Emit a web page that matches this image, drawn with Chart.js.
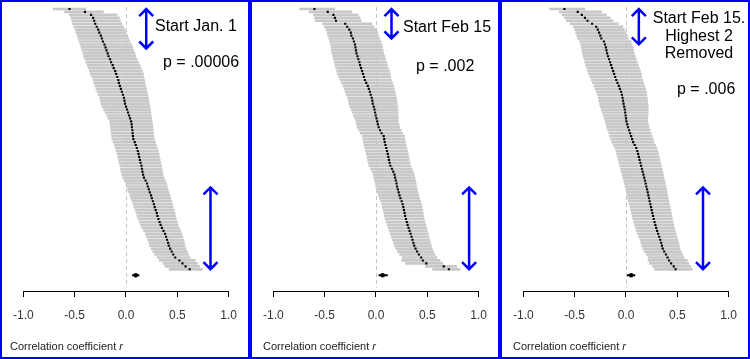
<!DOCTYPE html>
<html>
<head>
<meta charset="utf-8">
<script src="https://cdn.jsdelivr.net/npm/chart.js@4.4.0/dist/chart.umd.min.js"></script>
<style>
  body { margin: 0; background: #fff; font-family: "Liberation Sans", Arial, sans-serif; }
  #wrap { position: relative; width: 750px; height: 359px; overflow: hidden; }
  .panel { position: absolute; top: 0; width: 250px; height: 359px; box-sizing: border-box; border: 2px solid #0000ff; }
  .panel canvas { position: absolute; left: 0; top: 0; }
  .note { position: absolute; font-size: 16px; line-height: 18px; color: #000; white-space: nowrap; }
  .xtitle { position: absolute; top: 338px; font-size: 11px; line-height: 13px; color: #222; white-space: nowrap; }
</style>
</head>
<body>
<div id="wrap">
  <div class="panel" style="left:0">
    <canvas id="c1" width="246" height="355"></canvas>
    <div class="note" style="left:153px; top:15px">Start Jan. 1</div>
    <div class="note" style="left:161px; top:51px">p = .00006</div>
    <div class="xtitle" style="left:8px">Correlation coefficient <i>r</i></div>
  </div>
  <div class="panel" style="left:250px">
    <canvas id="c2" width="246" height="355"></canvas>
    <div class="note" style="left:151px; top:16px">Start Feb 15</div>
    <div class="note" style="left:164px; top:55px">p = .002</div>
    <div class="xtitle" style="left:11px">Correlation coefficient <i>r</i></div>
  </div>
  <div class="panel" style="left:500px">
    <canvas id="c3" width="246" height="355"></canvas>
    <div class="note" style="left:142px; top:7px; width:110px; text-align:center">Start Feb 15.</div>
    <div class="note" style="left:142px; top:25px; width:110px; text-align:center">Highest 2</div>
    <div class="note" style="left:142px; top:42px; width:110px; text-align:center">Removed</div>
    <div class="note" style="left:175px; top:78px">p = .006</div>
    <div class="xtitle" style="left:11px">Correlation coefficient <i>r</i></div>
  </div>
</div>
<script>
// tick labels on the r axis
var tickValues = [-1.0, -0.5, 0.0, 0.5, 1.0];

// Start Jan. 1 : estimate, lower, upper per row (top to bottom)
var est1 = [-0.55,-0.40,-0.34,-0.32,-0.31,-0.30,-0.285,-0.27,-0.26,-0.245,
  -0.235,-0.225,-0.21,-0.20,-0.19,-0.178,-0.17,-0.155,-0.145,-0.13,
  -0.12,-0.105,-0.095,-0.085,-0.075,-0.07,-0.06,-0.05,-0.04,-0.03,
  -0.02,-0.015,-0.01,0.0,0.01,0.02,0.03,0.04,0.05,0.055,
  0.058,0.062,0.065,0.068,0.072,0.085,0.095,0.105,0.115,0.122,
  0.128,0.135,0.142,0.15,0.155,0.16,0.167,0.175,0.19,0.205,
  0.213,0.222,0.232,0.244,0.252,0.262,0.272,0.28,0.29,0.30,
  0.307,0.316,0.327,0.337,0.35,0.365,0.38,0.39,0.40,0.41,
  0.416,0.43,0.445,0.46,0.48,0.52,0.55,0.58,0.62];
var lo1 = [-0.709,-0.599,-0.552,-0.536,-0.528,-0.520,-0.508,-0.496,-0.488,-0.476,
  -0.467,-0.459,-0.447,-0.438,-0.430,-0.419,-0.413,-0.400,-0.391,-0.378,
  -0.369,-0.356,-0.347,-0.333,-0.322,-0.315,-0.304,-0.293,-0.281,-0.270,
  -0.258,-0.251,-0.244,-0.234,-0.219,-0.204,-0.189,-0.174,-0.159,-0.154,
  -0.151,-0.147,-0.144,-0.141,-0.137,-0.124,-0.114,-0.104,-0.094,-0.087,
  -0.081,-0.074,-0.067,-0.059,-0.054,-0.049,-0.041,-0.033,-0.018,-0.002,
  0.006,0.016,0.026,0.039,0.047,0.058,0.069,0.077,0.088,0.099,
  0.107,0.117,0.129,0.140,0.154,0.171,0.188,0.199,0.210,0.222,
  0.229,0.245,0.262,0.280,0.303,0.324,0.361,0.38,0.42];
var hi1 = [-0.39,-0.22,-0.087,-0.064,-0.053,-0.042,-0.026,-0.010,0.001,0.017,
  0.028,0.038,0.054,0.064,0.075,0.087,0.095,0.110,0.121,0.136,
  0.146,0.160,0.170,0.174,0.182,0.184,0.191,0.199,0.206,0.213,
  0.220,0.223,0.226,0.234,0.238,0.242,0.247,0.250,0.254,0.259,
  0.262,0.266,0.268,0.271,0.275,0.287,0.296,0.305,0.315,0.321,
  0.326,0.333,0.339,0.346,0.351,0.355,0.362,0.369,0.382,0.395,
  0.402,0.410,0.419,0.429,0.436,0.445,0.453,0.460,0.469,0.477,
  0.483,0.491,0.500,0.509,0.519,0.532,0.544,0.552,0.561,0.569,
  0.574,0.585,0.597,0.609,0.625,0.673,0.695,0.717,0.745];
var pooled1 = [0.06, 0.095, 0.13];

// Start Feb 15
var est2 = [-0.60,-0.47,-0.415,-0.40,-0.39,-0.30,-0.28,-0.26,-0.245,-0.24,
  -0.225,-0.215,-0.205,-0.20,-0.195,-0.19,-0.18,-0.172,-0.162,-0.155,
  -0.145,-0.135,-0.126,-0.117,-0.108,-0.095,-0.08,-0.07,-0.06,-0.052,
  -0.042,-0.036,-0.032,-0.022,-0.015,-0.009,-0.003,0.005,0.012,0.018,
  0.026,0.04,0.055,0.075,0.08,0.085,0.092,0.10,0.107,0.114,
  0.12,0.126,0.133,0.14,0.155,0.168,0.18,0.186,0.193,0.20,
  0.205,0.213,0.221,0.229,0.238,0.25,0.26,0.266,0.273,0.279,
  0.284,0.292,0.30,0.308,0.317,0.327,0.337,0.346,0.355,0.364,
  0.372,0.385,0.40,0.418,0.44,0.456,0.49,0.66,0.71];
var lo2 = [-0.744,-0.651,-0.610,-0.599,-0.591,-0.520,-0.504,-0.488,-0.476,-0.471,
  -0.459,-0.451,-0.442,-0.438,-0.434,-0.430,-0.421,-0.414,-0.406,-0.400,
  -0.391,-0.383,-0.375,-0.362,-0.352,-0.338,-0.322,-0.311,-0.299,-0.290,
  -0.278,-0.271,-0.265,-0.255,-0.243,-0.232,-0.221,-0.207,-0.195,-0.190,
  -0.182,-0.168,-0.154,-0.134,-0.129,-0.124,-0.117,-0.109,-0.102,-0.095,
  -0.089,-0.083,-0.076,-0.069,-0.054,-0.040,-0.028,-0.022,-0.015,-0.007,
  -0.002,0.006,0.015,0.023,0.033,0.045,0.056,0.062,0.070,0.076,
  0.082,0.090,0.099,0.108,0.118,0.129,0.140,0.150,0.160,0.170,
  0.179,0.193,0.210,0.231,0.256,0.252,0.288,0.482,0.551];
var hi2 = [-0.402,-0.238,-0.173,-0.155,-0.144,-0.042,-0.020,0.001,0.017,0.022,
  0.038,0.049,0.059,0.064,0.070,0.075,0.085,0.093,0.103,0.110,
  0.121,0.131,0.140,0.143,0.149,0.160,0.172,0.179,0.186,0.192,
  0.199,0.203,0.205,0.213,0.215,0.215,0.215,0.217,0.218,0.224,
  0.232,0.245,0.259,0.278,0.282,0.287,0.293,0.301,0.307,0.314,
  0.319,0.325,0.331,0.337,0.351,0.362,0.373,0.378,0.385,0.391,
  0.395,0.402,0.409,0.416,0.424,0.435,0.443,0.448,0.454,0.459,
  0.464,0.471,0.477,0.484,0.492,0.500,0.509,0.516,0.524,0.531,
  0.538,0.548,0.561,0.575,0.593,0.624,0.650,0.786,0.819];
var pooled2 = [0.025, 0.065, 0.115];

// Start Feb 15, highest 2 removed
var est3 = [-0.60,-0.47,-0.43,-0.40,-0.375,-0.33,-0.29,-0.275,-0.262,-0.25,
  -0.24,-0.215,-0.205,-0.196,-0.19,-0.184,-0.175,-0.165,-0.155,-0.145,
  -0.135,-0.125,-0.115,-0.105,-0.095,-0.083,-0.07,-0.06,-0.048,-0.04,
  -0.034,-0.029,-0.024,-0.018,-0.012,-0.008,-0.004,0.0,0.004,0.012,
  0.02,0.03,0.04,0.05,0.06,0.07,0.085,0.10,0.11,0.118,
  0.125,0.132,0.14,0.147,0.155,0.162,0.17,0.177,0.185,0.192,
  0.198,0.205,0.212,0.218,0.224,0.23,0.237,0.244,0.25,0.257,
  0.264,0.27,0.278,0.286,0.294,0.303,0.313,0.323,0.333,0.342,
  0.35,0.358,0.372,0.389,0.405,0.42,0.44,0.465,0.483];
var lo3 = [-0.744,-0.651,-0.621,-0.599,-0.579,-0.544,-0.512,-0.500,-0.490,-0.480,
  -0.471,-0.451,-0.442,-0.435,-0.430,-0.425,-0.417,-0.408,-0.400,-0.391,
  -0.383,-0.374,-0.365,-0.351,-0.340,-0.327,-0.313,-0.302,-0.288,-0.279,
  -0.271,-0.264,-0.258,-0.251,-0.240,-0.231,-0.222,-0.212,-0.203,-0.195,
  -0.188,-0.178,-0.168,-0.159,-0.149,-0.139,-0.124,-0.109,-0.099,-0.091,
  -0.084,-0.077,-0.069,-0.062,-0.054,-0.047,-0.038,-0.031,-0.023,-0.016,
  -0.009,-0.002,0.005,0.012,0.018,0.024,0.032,0.039,0.045,0.053,
  0.060,0.067,0.075,0.084,0.093,0.102,0.113,0.124,0.135,0.145,
  0.154,0.163,0.179,0.198,0.216,0.215,0.228,0.258,0.279];
var hi3 = [-0.402,-0.238,-0.190,-0.155,-0.126,-0.075,-0.031,-0.015,-0.001,0.012,
  0.022,0.049,0.059,0.069,0.075,0.081,0.090,0.100,0.110,0.121,
  0.131,0.141,0.151,0.154,0.162,0.171,0.182,0.189,0.198,0.203,
  0.207,0.210,0.213,0.217,0.217,0.216,0.214,0.212,0.211,0.218,
  0.226,0.236,0.245,0.254,0.264,0.273,0.287,0.301,0.310,0.317,
  0.324,0.330,0.337,0.344,0.351,0.357,0.364,0.370,0.378,0.384,
  0.389,0.395,0.401,0.407,0.412,0.417,0.423,0.429,0.435,0.441,
  0.447,0.452,0.459,0.465,0.472,0.480,0.488,0.497,0.505,0.513,
  0.519,0.526,0.538,0.552,0.565,0.597,0.612,0.631,0.645];
var pooled3 = [0.01, 0.05, 0.09];

var pooledRow = 90;

// arrows: [r, first row, last row]
var panels = [
  { id: 'c1', est: est1, lo: lo1, hi: hi1, pooled: pooled1, pad: [15.7, 17.3],
    arrows: [[0.197, -0.3, 13.7], [0.823, 60, 88.3]] },
  { id: 'c2', est: est2, lo: lo2, hi: hi2, pooled: pooled2, pad: [18.7, 15],
    arrows: [[0.151, -0.3, 10.3], [0.907, 60, 88.3]] },
  { id: 'c3', est: est3, lo: lo3, hi: hi3, pooled: pooled3, pad: [18.7, 15],
    arrows: [[0.125, -0.3, 12.3], [0.75, 60, 88.3]] }
];

function overlay(arrows) {
  return {
    id: 'overlay',
    beforeDatasetsDraw: function (chart) {
      var ctx = chart.ctx, area = chart.chartArea;
      var px = Math.round(chart.scales.x.getPixelForValue(0)) + 0.5;
      ctx.save();
      ctx.strokeStyle = '#c4c4c4';
      ctx.lineWidth = 1;
      ctx.setLineDash([4, 3]);
      ctx.beginPath();
      ctx.moveTo(px, area.top + 1);
      ctx.lineTo(px, area.bottom - 3);
      ctx.stroke();
      ctx.restore();
    },
    afterDatasetsDraw: function (chart) {
      var ctx = chart.ctx, x = chart.scales.x, y = chart.scales.y;
      ctx.save();
      ctx.strokeStyle = '#0000ff';
      ctx.lineWidth = 2.5;
      arrows.forEach(function (a) {
        var px = x.getPixelForValue(a[0]);
        var p0 = y.getPixelForValue(a[1]), p1 = y.getPixelForValue(a[2]);
        ctx.beginPath();
        ctx.moveTo(px, p0 + 1); ctx.lineTo(px, p1 - 1);
        ctx.moveTo(px - 7, p0 + 8); ctx.lineTo(px, p0 + 1); ctx.lineTo(px + 7, p0 + 8);
        ctx.moveTo(px - 7, p1 - 8); ctx.lineTo(px, p1 - 1); ctx.lineTo(px + 7, p1 - 8);
        ctx.stroke();
      });
      ctx.restore();
    }
  };
}

panels.forEach(function (p) {
  new Chart(document.getElementById(p.id), {
    type: 'bar',
    data: {
      datasets: [{
        type: 'bar',
        data: p.est.map(function (v, i) { return { x: [p.lo[i], p.hi[i]], y: i }; }),
        backgroundColor: '#c8c8c8',
        barThickness: 2,
        grouped: false,
        order: 3
      }, {
        type: 'line',
        data: [{ x: p.pooled[0], y: pooledRow }, { x: p.pooled[2], y: pooledRow }],
        borderColor: '#000',
        borderWidth: 2,
        pointRadius: 0,
        order: 2
      }, {
        type: 'scatter',
        data: p.est.map(function (v, i) { return { x: v, y: i }; }),
        pointStyle: 'rect',
        pointRadius: 1.5,
        backgroundColor: '#000',
        borderWidth: 0,
        order: 1
      }, {
        type: 'scatter',
        data: [{ x: p.pooled[1], y: pooledRow }],
        pointRadius: 2.3,
        backgroundColor: '#000',
        borderWidth: 0,
        order: 1
      }]
    },
    options: {
      indexAxis: 'y',
      responsive: false,
      animation: false,
      layout: { padding: { left: p.pad[0], right: p.pad[1], top: 0, bottom: 0 } },
      plugins: { legend: { display: false }, tooltip: { enabled: false } },
      scales: {
        x: {
          type: 'linear', min: -1, max: 1,
          afterBuildTicks: function (s) { s.ticks = tickValues.map(function (v) { return { value: v }; }); },
          afterFit: function (s) { s.height = 66; },
          ticks: {
            callback: function (v) { return v.toFixed(1); },
            font: { size: 12, family: '"Liberation Sans", Arial, sans-serif' },
            color: '#333', padding: 11, maxRotation: 0, autoSkip: false
          },
          grid: { drawOnChartArea: false, tickLength: 6, color: '#000' },
          border: { display: true, color: '#000', width: 1 }
        },
        y: { type: 'linear', display: false, min: -1, max: 95.33, reverse: true, offset: false }
      }
    },
    plugins: [overlay(p.arrows)]
  });
});
</script>
</body>
</html>
